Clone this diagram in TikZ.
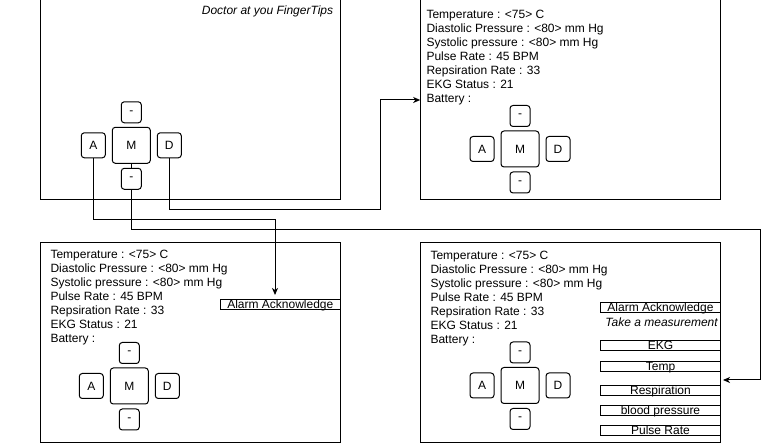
\documentclass[tikz,border=0pt]{standalone}
\usepackage{fontspec}
\setmainfont{Liberation Sans}
\usetikzlibrary{arrows.meta}

\begin{document}
\begin{tikzpicture}[x=1pt,y=-1pt,line width=1pt,
    every node/.style={font=\fontsize{12}{14}\selectfont},
    screen/.style={draw,minimum width=300pt,minimum height=200pt,inner sep=0pt},
    keybtn/.style={draw,rounded corners=3pt,minimum width=24pt,minimum height=25pt,inner sep=0pt},
    bigkey/.style={keybtn,minimum width=38pt,minimum height=36pt},
    dashkey/.style={keybtn,minimum width=20pt,minimum height=21pt},
    readout/.style={anchor=north west,align=left,inner sep=0pt},
    menuitem/.style={draw,minimum width=120pt,minimum height=10pt,text height=8pt,text depth=0pt,inner xsep=0pt,inner ysep=1pt},
    wire/.style={-{Stealth[length=7pt,width=6pt,inset=2pt]}}]
    \useasboundingbox (0,0) rectangle (769,443);

    % the four screens
    \node[screen] (s1) at (190.5,100) {};
    \node[screen] (s2) at (570.7,100) {};
    \node[screen] (s3) at (190.5,342.3) {};
    \node[screen] (s4) at (570.7,342.3) {};
    \node[anchor=base east,font=\fontsize{12}{14}\selectfont\itshape] (title) at (337,14.7) {Doctor at you FingerTips};

    % vital signs
    \foreach \n/\x/\y in {2/426/10, 3/50/250, 4/430/251}
        \node[readout] (txt\n) at (\x,\y) {Temperature : <75> C\\
            Diastolic Pressure : <80> mm Hg\\
            Systolic pressure : <80> mm Hg\\
            Pulse Rate : 45 BPM\\
            Repsiration Rate : 33\\
            EKG Status : 21\\
            Battery :};

    % keypads
    \foreach \n/\x/\y in {1/131.3/145.3, 2/520/149, 3/129.3/386, 4/520/385.5} {
        \node[bigkey] (m\n) at (\x,\y) {M};
        \node[keybtn] (a\n) at (\x-38,\y) {A};
        \node[keybtn] (d\n) at (\x+38,\y) {D};
        \node[dashkey] (u\n) at (\x,\y-33) {-};
        \node[dashkey] (l\n) at (\x,\y+33.5) {-};
    }

    % menus
    \node[menuitem] (al3) at (280.3,305) {Alarm Acknowledge};
    \node[menuitem] (al4) at (660.5,307.5) {Alarm Acknowledge};
    \node[font=\fontsize{12}{14}\selectfont\itshape] (tm4) at (661.6,322) {Take a measurement};
    \node[menuitem] (ekg4) at (660.5,346) {EKG};
    \node[menuitem] (temp4) at (660.5,367) {Temp};
    \node[menuitem] (resp4) at (660.5,391) {Respiration};
    \node[menuitem] (bp4) at (660.5,411) {blood pressure};
    \node[menuitem] (pr4) at (660.5,430.5) {Pulse Rate};

    % connectors
    \coordinate (in3) at (275,295);
    \coordinate (in4) at (723,380);
    \draw[wire] (d1.south) |- (380,210) |- (s2.west);
    \draw[wire] (a1.south) |- (275,220) -- (in3);
    \draw (m1) -- (l1);
    \draw[wire] (l1.south) |- (760,230) |- (in4);
\end{tikzpicture}
\end{document}
